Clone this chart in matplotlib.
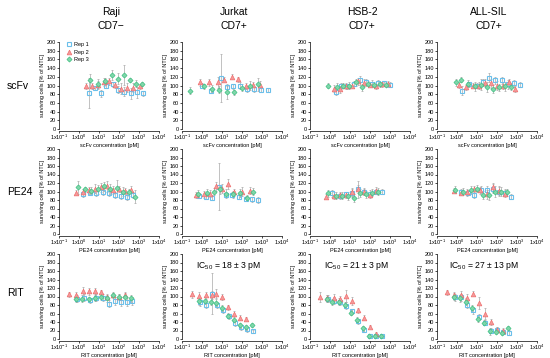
import matplotlib
matplotlib.use('Agg')
import matplotlib.pyplot as plt
from matplotlib.lines import Line2D

plt.rcParams['font.family'] = ['Liberation Sans', 'DejaVu Sans']
plt.rcParams['mathtext.fontset'] = 'custom'
plt.rcParams['mathtext.rm'] = 'Liberation Sans'

cell_lines = ['Raji', 'Jurkat', 'HSB-2', 'ALL-SIL']
cd7_status = ['CD7\u2212', 'CD7+', 'CD7+', 'CD7+']
agents = ['scFv', 'PE24', 'RIT']
rep_labels = ['Rep 1', 'Rep 2', 'Rep 3']
ic50_rit = [None, '18 \u00b1 3', '21 \u00b1 3', '27 \u00b1 13']
x_ticks = [0.1, 1, 10, 100, 1000, 10000]
x_tick_labels = [r'1x10$^{-1}$', r'1x10$^{0}$', r'1x10$^{1}$', r'1x10$^{2}$', r'1x10$^{3}$', r'1x10$^{4}$']
y_ticks = [0, 20, 40, 60, 80, 100, 120, 140, 160, 180, 200]

# ---------------- scFv row ----------------
raji_scfv_x = [[3, 6.6, 12, 23, 52, 91, 180, 400, 790, 1600],
               [2.3, 4.7, 8.5, 17, 32, 63, 126, 250, 500, 1100],
               [3.5, 9, 20, 45, 90, 180, 350, 700, 1400]]
raji_scfv_y = [[83, 94, 82, 100, 103, 90, 86, 82, 84, 82],
               [99, 99, 101, 108, 110, 101, 93, 95, 95, 98],
               [112, 104, 110, 124, 116, 124, 112, 104, 104]]
raji_scfv_e = [[35, 5, 8, 6, 6, 8, 10, 12, 12, 6],
               [6, 7, 10, 10, 8, 7, 12, 10, 10, 6],
               [15, 10, 8, 12, 12, 22, 5, 8, 5]]

jurkat_scfv_x = [[1, 2.8, 8.9, 18, 36, 80, 180, 400, 900, 2000],
                 [0.8, 2.2, 6, 13, 32, 63, 160, 350, 800],
                 [0.25, 1.2, 3, 7, 17, 40, 100, 250, 600]]
jurkat_scfv_y = [[100, 88, 117, 97, 98, 100, 92, 91, 90, 89],
                 [107, 107, 107, 113, 120, 114, 99, 102, 102],
                 [88, 98, 93, 90, 85, 84, 95, 100, 103]]
jurkat_scfv_e = [[6, 6, 55, 6, 6, 8, 6, 5, 6, 5],
                 [8, 8, 12, 6, 6, 6, 6, 6, 8],
                 [8, 6, 8, 8, 15, 6, 8, 10, 15]]

hsb2_scfv_x = [[2, 3.5, 7, 15, 30, 60, 120, 250, 500, 1000],
               [1.5, 3, 6, 12, 25, 50, 100, 200, 400, 800],
               [0.8, 2.2, 4.5, 9, 20, 40, 80, 160, 320, 640]]
hsb2_scfv_y = [[86, 99, 98, 104, 112, 108, 104, 106, 105, 102],
               [93, 91, 99, 100, 110, 106, 102, 98, 103, 104],
               [100, 97, 100, 99, 107, 96, 104, 102, 103, 102]]
hsb2_scfv_e = [[8, 6, 6, 6, 10, 8, 8, 6, 6, 6],
               [8, 8, 6, 6, 8, 8, 6, 6, 6, 6],
               [6, 8, 6, 8, 8, 8, 6, 6, 6, 6]]

allsil_scfv_x = [[1.8, 4, 10, 20, 40, 80, 170, 350, 700, 1400],
                 [1.2, 2.8, 6, 12, 25, 50, 100, 200, 400, 800],
                 [0.9, 1.5, 3.5, 8, 16, 32, 65, 130, 260, 520]]
allsil_scfv_y = [[88, 103, 100, 107, 118, 112, 112, 103, 105, 102],
                 [101, 96, 100, 100, 106, 105, 100, 99, 107, 92],
                 [107, 113, 104, 98, 102, 96, 92, 96, 98, 97]]
allsil_scfv_e = [[10, 6, 6, 8, 10, 8, 8, 10, 8, 6],
                 [6, 6, 6, 8, 8, 10, 10, 8, 8, 6],
                 [8, 6, 8, 10, 12, 12, 10, 8, 10, 8]]

# ---------------- PE24 row ----------------
raji_pe24_x = [[1.5, 3.5, 7, 15, 30, 60, 120, 250, 500],
               [0.7, 1.5, 3, 6, 12, 25, 50, 100, 200, 400],
               [0.9, 2, 4, 9, 18, 36, 75, 150, 300, 600]]
raji_pe24_y = [[93, 97, 96, 100, 97, 92, 90, 87, 92],
               [97, 99, 103, 107, 110, 112, 103, 106, 101, 104],
               [110, 105, 102, 105, 112, 105, 108, 100, 98, 88]]
raji_pe24_e = [[6, 6, 6, 8, 8, 8, 8, 6, 8],
               [6, 6, 8, 10, 10, 12, 10, 8, 8, 8],
               [15, 6, 8, 10, 10, 12, 20, 10, 8, 15]]

jurkat_pe24_x = [[0.7, 1.5, 3, 7, 15, 30, 70, 150, 300, 600],
                 [0.5, 1.2, 2.5, 5, 10, 20, 40, 100, 250],
                 [0.6, 1.8, 4, 8, 16, 35, 80, 180, 350]]
jurkat_pe24_y = [[90, 88, 85, 111, 92, 92, 88, 83, 82, 80],
                 [92, 93, 95, 112, 107, 117, 98, 100, 102],
                 [95, 97, 100, 105, 95, 93, 97, 85, 100]]
jurkat_pe24_e = [[6, 6, 6, 55, 6, 6, 6, 6, 6, 6],
                 [8, 8, 8, 10, 10, 12, 8, 10, 8],
                 [8, 8, 8, 10, 10, 8, 10, 6, 8]]

hsb2_pe24_x = [[1.2, 3, 6, 12, 25, 50, 100, 200, 400],
               [0.6, 1.5, 3, 6, 12, 25, 50, 100, 200],
               [0.8, 2, 4, 8, 16, 32, 65, 130, 260]]
hsb2_pe24_y = [[96, 90, 93, 97, 106, 100, 95, 99, 100],
               [88, 90, 91, 92, 98, 105, 99, 92, 102],
               [96, 90, 90, 90, 85, 96, 93, 97, 100]]
hsb2_pe24_e = [[8, 6, 6, 8, 10, 8, 8, 6, 6],
               [6, 8, 8, 8, 10, 20, 8, 8, 8],
               [8, 8, 8, 10, 10, 10, 8, 8, 8]]

allsil_pe24_x = [[1.5, 3.5, 7, 15, 30, 60, 120, 250, 500],
                 [0.7, 1.5, 3, 7, 14, 30, 60, 120, 240],
                 [0.8, 2, 5, 10, 20, 40, 80, 160, 320]]
allsil_pe24_y = [[100, 97, 92, 104, 104, 107, 100, 97, 88],
                 [102, 97, 98, 107, 103, 93, 110, 102, 95],
                 [104, 100, 103, 107, 92, 92, 100, 100, 98]]
allsil_pe24_e = [[6, 6, 8, 8, 10, 10, 10, 8, 6],
                 [6, 6, 8, 6, 8, 10, 10, 10, 8],
                 [8, 8, 10, 8, 10, 12, 12, 10, 8]]

# ---------------- RIT row ----------------
raji_rit_x = [[0.8, 1.7, 3.5, 7, 15, 30, 60, 120, 250, 450],
              [0.3, 0.7, 1.5, 3, 6, 12, 25, 50, 100, 200],
              [0.7, 1.4, 3, 6, 12, 25, 50, 100, 200, 400]]
raji_rit_y = [[95, 97, 91, 97, 97, 83, 90, 88, 88, 89],
              [105, 103, 112, 112, 112, 110, 99, 104, 99, 104],
              [95, 95, 93, 97, 100, 96, 103, 99, 100, 96]]
raji_rit_e = [[8, 8, 6, 8, 8, 8, 10, 10, 10, 10],
              [6, 8, 10, 8, 8, 6, 8, 6, 6, 6],
              [8, 8, 6, 8, 8, 8, 6, 8, 8, 8]]

jurkat_rit_x = [[0.8, 1.5, 3, 5.5, 11, 22, 45, 90, 180, 360],
                [0.3, 0.7, 1.5, 3, 5, 10, 20, 40, 80, 160],
                [0.7, 1.4, 2.7, 5, 10, 20, 40, 80, 160, 320]]
jurkat_rit_y = [[86, 80, 107, 80, 68, 53, 37, 28, 23, 18],
                [105, 102, 103, 103, 107, 99, 75, 60, 50, 47],
                [89, 90, 88, 85, 73, 55, 45, 32, 28, 33]]
jurkat_rit_e = [[8, 6, 48, 6, 6, 6, 6, 6, 6, 4],
                [8, 8, 8, 10, 10, 8, 6, 6, 6, 4],
                [8, 8, 8, 8, 6, 6, 6, 6, 6, 4]]

hsb2_rit_x = [[0.8, 1.5, 3, 6, 12, 25, 50, 100, 200, 400],
              [0.3, 0.7, 1.5, 3, 6, 12, 25, 50, 100, 200],
              [0.7, 1.3, 2.7, 5.5, 11, 22, 45, 90, 180, 350]]
hsb2_rit_y = [[95, 90, 87, 78, 65, 42, 22, 8, 7, 7],
              [98, 96, 97, 93, 102, 90, 68, 50, 29, 12],
              [95, 87, 88, 80, 62, 45, 25, 6, 8, 6]]
hsb2_rit_e = [[8, 8, 8, 8, 6, 6, 6, 4, 4, 3],
              [12, 8, 8, 8, 14, 10, 6, 6, 4, 4],
              [8, 8, 8, 8, 6, 6, 6, 4, 4, 3]]

allsil_rit_x = [[0.8, 1.5, 3, 6, 12, 25, 50, 100, 200, 400],
                [0.3, 0.7, 1.5, 3, 6, 12, 25, 50, 100, 200],
                [0.7, 1.4, 2.8, 5.5, 11, 22, 45, 90, 180, 360]]
allsil_rit_y = [[98, 98, 80, 68, 52, 38, 20, 22, 17, 15],
                [110, 103, 103, 97, 107, 85, 60, 40, 22, 20],
                [100, 96, 88, 72, 48, 38, 18, 17, 15, 25]]
allsil_rit_e = [[8, 8, 8, 8, 8, 6, 6, 6, 6, 6],
                [6, 8, 10, 8, 6, 14, 12, 8, 6, 6],
                [8, 8, 8, 8, 8, 6, 8, 6, 6, 6]]

panels_x = [[raji_scfv_x, jurkat_scfv_x, hsb2_scfv_x, allsil_scfv_x],
            [raji_pe24_x, jurkat_pe24_x, hsb2_pe24_x, allsil_pe24_x],
            [raji_rit_x, jurkat_rit_x, hsb2_rit_x, allsil_rit_x]]
panels_y = [[raji_scfv_y, jurkat_scfv_y, hsb2_scfv_y, allsil_scfv_y],
            [raji_pe24_y, jurkat_pe24_y, hsb2_pe24_y, allsil_pe24_y],
            [raji_rit_y, jurkat_rit_y, hsb2_rit_y, allsil_rit_y]]
panels_e = [[raji_scfv_e, jurkat_scfv_e, hsb2_scfv_e, allsil_scfv_e],
            [raji_pe24_e, jurkat_pe24_e, hsb2_pe24_e, allsil_pe24_e],
            [raji_rit_e, jurkat_rit_e, hsb2_rit_e, allsil_rit_e]]

# ---------------- styling / layout ----------------
W, H = 550, 358
fig = plt.figure(figsize=(W / 100, H / 100), dpi=100)

col_x0 = [59, 182, 310, 437]
ax_w = 100
row_top = [42, 149, 254]
row_bot = [129, 234, 339]

rep_styles = [
    dict(marker='s', mfc='none', mec='#6BBFEA', ms=3.3, mew=0.8),
    dict(marker='^', mfc='#F59A9A', mec='#EE6E6E', ms=3.4, mew=0.5),
    dict(marker='D', mfc='#7FD6AA', mec='#3CBF7F', ms=2.6, mew=0.5),
]
err_color = '#A8A8A8'
tick_fs = 4.0

for r in range(3):
    for c in range(4):
        left = col_x0[c] / W
        bottom = 1 - row_bot[r] / H
        height = (row_bot[r] - row_top[r]) / H
        ax = fig.add_axes([left, bottom, ax_w / W, height])
        xs, ys, es = panels_x[r][c], panels_y[r][c], panels_e[r][c]
        for k in range(3):
            ax.errorbar(xs[k], ys[k], yerr=es[k], fmt='none', ecolor=err_color,
                        elinewidth=0.5, capsize=1.0, capthick=0.5, zorder=2)
        for k in range(3):
            ax.plot(xs[k], ys[k], linestyle='none', zorder=3 + k, **rep_styles[k])
        ax.set_xscale('log')
        ax.set_xlim(0.1, 1e4)
        ax.set_ylim(0, 200)
        ax.set_xticks(x_ticks)
        ax.set_xticklabels(x_tick_labels)
        ax.xaxis.set_minor_locator(matplotlib.ticker.NullLocator())
        ax.set_yticks(y_ticks)
        ax.tick_params(axis='both', labelsize=tick_fs, length=1.5, width=0.5, pad=0.8)
        ax.tick_params(axis='x', pad=0.3)
        for s in ['top', 'right']:
            ax.spines[s].set_visible(False)
        for s in ['left', 'bottom']:
            ax.spines[s].set_linewidth(0.5)
        ax.spines['bottom'].set_position(('outward', 1.2))
        ax.set_xlabel(f'{agents[r]} concentration [pM]', fontsize=tick_fs, labelpad=0.2)
        ax.set_ylabel('surviving cells [% of NTC]', fontsize=tick_fs, labelpad=1)
        ax.patch.set_alpha(0)
        if r == 2 and ic50_rit[c]:
            ax.text(0.47, 0.86, f'IC$_{{50}}$ = {ic50_rit[c]} pM', transform=ax.transAxes,
                    ha='center', va='center', fontsize=6.2)
        if r == 0 and c == 0:
            handles = [Line2D([], [], linestyle='none', **rep_styles[k]) for k in range(3)]
            ax.legend(handles, rep_labels, loc='upper left', bbox_to_anchor=(0.04, 1.04),
                      fontsize=tick_fs, frameon=False, handlelength=0.8,
                      handletextpad=0.4, labelspacing=0.45, borderpad=0.2)

# column headers
for c in range(4):
    cx = (col_x0[c] + ax_w / 2 + 2) / W
    fig.text(cx, 1 - 12 / H, cell_lines[c], ha='center', va='center', fontsize=7.5)
    fig.text(cx, 1 - 26 / H, cd7_status[c], ha='center', va='center', fontsize=7.5)

# row labels
row_label_y = [86, 192, 293]
for r in range(3):
    fig.text(7 / W, 1 - row_label_y[r] / H, agents[r], ha='left', va='center', fontsize=7.5)

fig.savefig('out.png', dpi=100)
